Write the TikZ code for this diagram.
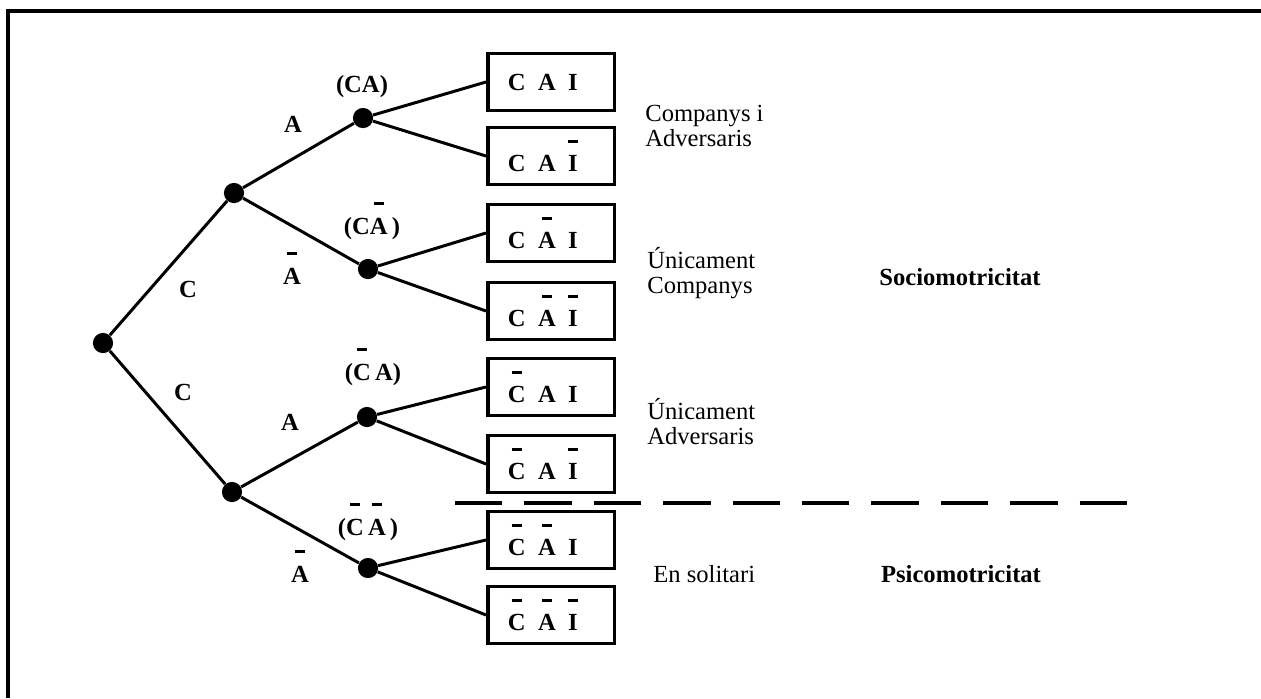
\documentclass[tikz,border=0pt]{standalone}
\usepackage{fontspec}
\setmainfont{Liberation Serif}
\usetikzlibrary{positioning}

% bar over a letter (negation)
\newcommand{\nbar}[1]{\setbox0\hbox{#1}\vbox{\offinterlineskip\hbox to\wd0{\hss\vrule width 5.8pt height 1.7pt\hss}\kern 7pt\box0}}

\begin{document}
\begin{tikzpicture}[x=0.02cm, y=-0.02cm,
    dot/.style={circle, fill, inner sep=0pt, minimum size=11.5pt},
    branch/.style={line width=1.7pt},
    lbl/.style={anchor=base, inner sep=0pt, font=\fontsize{14}{16}\selectfont\bfseries},
    cai/.style={draw, line width=2pt, minimum width=72pt, minimum height=32.5pt,
        text width=49pt, inner xsep=11.5pt, align=left, font=\fontsize{14}{16}\selectfont\bfseries},
    note/.style={anchor=west, align=left, inner sep=0pt, font=\fontsize{14}{14.2}\selectfont},
    motricitat/.style={font=\fontsize{14}{16}\selectfont\bfseries}]
        \useasboundingbox (0,0) rectangle (1261,698);
        \draw[line width=2.3pt] (8,698) -- (8,11) -- (1261,11);

        % tree
        \node[dot] (root) at (103,343) {};
        \node[dot] (c) at (234,193) {};
        \node[dot] (nc) at (232,492) {};
        \node[dot] (ca) at (363,118) {};
        \node[dot] (can) at (368,269) {};
        \node[dot] (nca) at (367,417) {};
        \node[dot] (ncan) at (368,568) {};

        \node[cai] (b1) at (551,82) {C\enspace A\enspace I};
        \node[cai] (b2) at (551,156) {C\enspace A\enspace \nbar{I}};
        \node[cai] (b3) at (551,233) {C\enspace \nbar{A}\enspace I};
        \node[cai] (b4) at (551,311) {C\enspace \nbar{A}\enspace \nbar{I}};
        \node[cai] (b5) at (551,387) {\nbar{C}\enspace A\enspace I};
        \node[cai] (b6) at (551,464) {\nbar{C}\enspace A\enspace \nbar{I}};
        \node[cai] (b7) at (551,540) {\nbar{C}\enspace \nbar{A}\enspace I};
        \node[cai] (b8) at (551,615) {\nbar{C}\enspace \nbar{A}\enspace \nbar{I}};

        \draw[branch] (root) -- (c);
        \draw[branch] (root) -- (nc);
        \draw[branch] (c) -- (ca);
        \draw[branch] (c) -- (can);
        \draw[branch] (nc) -- (nca);
        \draw[branch] (nc) -- (ncan);
        \draw[branch] (ca) -- (b1.west);
        \draw[branch] (ca) -- (b2.west);
        \draw[branch] (can) -- (b3.west);
        \draw[branch] (can) -- (b4.west);
        \draw[branch] (nca) -- (b5.west);
        \draw[branch] (nca) -- (b6.west);
        \draw[branch] (ncan) -- (b7.west);
        \draw[branch] (ncan) -- (b8.west);

        % branch labels
        \node[lbl] (lc1) at (188,297) {C};
        \node[lbl] (lc2) at (183,400) {C};
        \node[lbl] (la1) at (293,132) {A};
        \node[lbl] (la2) at (292,284) {\nbar{A}};
        \node[lbl] (la3) at (290,430) {A};
        \node[lbl] (la4) at (300,582) {\nbar{A}};
        \node[lbl] (lca) at (362,92) {(CA)};
        \node[lbl] (lcan) at (372,234) {(C\nbar{A}\,)};
        \node[lbl] (lnca) at (373,380) {(\nbar{C}\,A)};
        \node[lbl] (lncan) at (368,535) {(\nbar{C}\,\nbar{A}\,)};

        % right side
        \node[note] (t1) at (645,126) {Companys i\\Adversaris};
        \node[note] (t2) at (647,273) {Únicament\\Companys};
        \node[note] (t3) at (647,422) {Únicament\\Adversaris};
        \node[note] (t4) at (653,574) {En solitari};
        \node[motricitat] (socio) at (960,277) {Sociomotricitat};
        \node[motricitat] (psico) at (961,574) {Psicomotricitat};

        \coordinate (dl) at (455,503);
        \coordinate (dr) at (1139,503);
        \draw[line width=2.3pt, dash pattern=on 27pt off 12.5pt] (dl) -- (dr);
\end{tikzpicture}
\end{document}
